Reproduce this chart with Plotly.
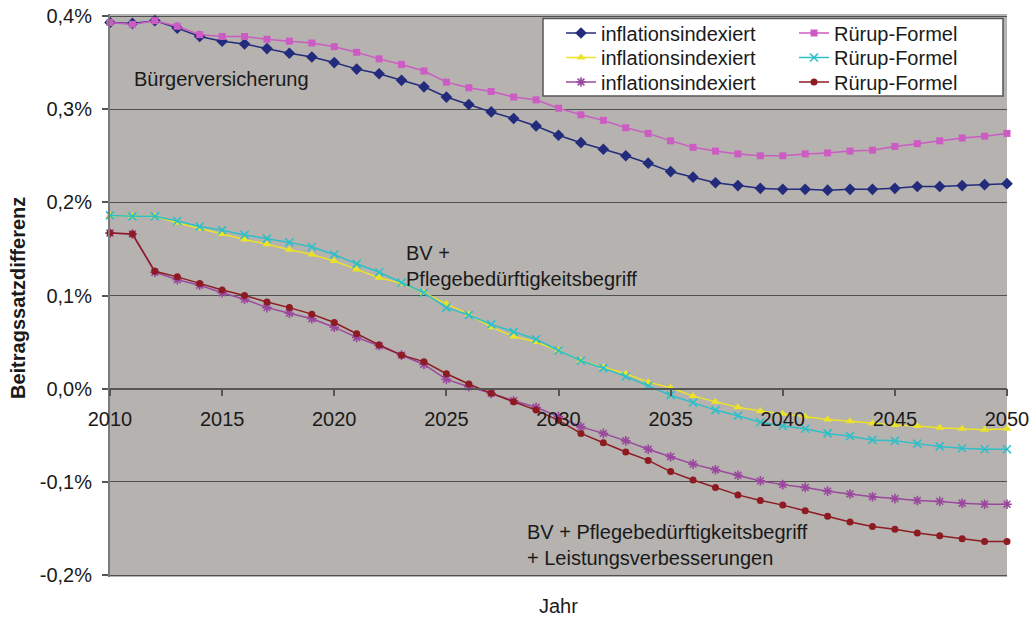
import plotly.graph_objects as go

# ---------------- data ----------------
years = list(range(2010, 2051))

bv_infl = [0.393, 0.392, 0.395, 0.387, 0.378, 0.373, 0.370, 0.365, 0.360, 0.356,
           0.350, 0.343, 0.338, 0.331, 0.324, 0.313, 0.305, 0.297, 0.290, 0.282,
           0.272, 0.264, 0.257, 0.250, 0.242, 0.233, 0.227, 0.221, 0.218, 0.215,
           0.214, 0.214, 0.213, 0.214, 0.214, 0.215, 0.217, 0.217, 0.218, 0.219, 0.220]

bv_ruerup = [0.393, 0.391, 0.395, 0.389, 0.380, 0.378, 0.378, 0.375, 0.373, 0.371,
             0.367, 0.361, 0.354, 0.348, 0.341, 0.329, 0.323, 0.319, 0.313, 0.310,
             0.301, 0.294, 0.288, 0.280, 0.274, 0.266, 0.259, 0.255, 0.252, 0.250,
             0.250, 0.252, 0.253, 0.255, 0.256, 0.260, 0.263, 0.266, 0.269, 0.271, 0.274]

pb_infl = [0.186, 0.185, 0.185, 0.178, 0.172, 0.166, 0.160, 0.155, 0.149, 0.144,
           0.137, 0.128, 0.119, 0.113, 0.103, 0.091, 0.080, 0.066, 0.056, 0.050,
           0.041, 0.030, 0.023, 0.016, 0.007, 0.001, -0.008, -0.014, -0.020, -0.024,
           -0.027, -0.030, -0.033, -0.035, -0.037, -0.039, -0.040, -0.042, -0.043, -0.044, -0.043]

pb_ruerup = [0.186, 0.185, 0.185, 0.180, 0.174, 0.170, 0.165, 0.161, 0.157, 0.152,
             0.144, 0.134, 0.125, 0.114, 0.103, 0.087, 0.079, 0.069, 0.061, 0.053,
             0.041, 0.030, 0.022, 0.013, 0.003, -0.007, -0.015, -0.023, -0.029, -0.036,
             -0.040, -0.043, -0.048, -0.051, -0.055, -0.056, -0.059, -0.062, -0.064, -0.065, -0.065]

lv_infl = [0.167, 0.166, 0.125, 0.117, 0.111, 0.103, 0.096, 0.087, 0.081, 0.075,
           0.066, 0.055, 0.046, 0.036, 0.026, 0.010, 0.002, -0.005, -0.013, -0.020,
           -0.030, -0.041, -0.048, -0.056, -0.065, -0.073, -0.081, -0.087, -0.093, -0.099,
           -0.103, -0.106, -0.110, -0.113, -0.116, -0.118, -0.120, -0.121, -0.123, -0.124, -0.124]

lv_ruerup = [0.167, 0.166, 0.126, 0.120, 0.113, 0.106, 0.100, 0.093, 0.087, 0.080,
             0.071, 0.059, 0.047, 0.036, 0.029, 0.016, 0.005, -0.005, -0.014, -0.023,
             -0.034, -0.048, -0.058, -0.068, -0.077, -0.089, -0.098, -0.106, -0.114, -0.120,
             -0.125, -0.131, -0.137, -0.143, -0.148, -0.151, -0.155, -0.158, -0.161, -0.164, -0.164]

series_names = ["inflationsindexiert", "Rürup-Formel",
                "inflationsindexiert", "Rürup-Formel",
                "inflationsindexiert", "Rürup-Formel"]

x_tickvals = [2010, 2015, 2020, 2025, 2030, 2035, 2040, 2045, 2050]
x_ticktext = ["2010", "2015", "2020", "2025", "2030", "2035", "2040", "2045", "2050"]
y_tickvals = [-0.2, -0.1, 0.0, 0.1, 0.2, 0.3, 0.4]
y_ticktext = ["-0,2%", "-0,1%", "0,0%", "0,1%", "0,2%", "0,3%", "0,4%"]

# ---------------- styling ----------------
FONT = "Liberation Sans, Arial, sans-serif"
W, H = 1031, 618
OFF = 0  # page margin removed by the post script below
Y_LO, Y_HI = -0.2, 0.4
GT, GB = 16, 575          # screen rows of the 0,4% and -0,2% gridlines
PADPX = 2                 # keep edge gridlines just inside the plot area
EPS = PADPX * (Y_HI - Y_LO) / (GB - GT)
PL, PR, PT, PB = 110, 1007, GT - PADPX, GB + PADPX
PW, PH = PR - PL, PB - PT
ML, MT = PL - OFF, PT - OFF
MR, MB = W - (PR - OFF), H - (PB - OFF)


def px_x(px):
    return (px - PL) / PW


def px_y(py):
    return (PB - py) / PH


styles = [
    dict(color="#232c7c", symbol="diamond", size=9),
    dict(color="#cc5cc4", symbol="square", size=7),
    dict(color="#ece228", symbol="triangle-up", size=8),
    dict(color="#2ebfc8", symbol="x-thin-open", size=8),
    dict(color="#9a489e", symbol="asterisk-open", size=8),
    dict(color="#8e1b22", symbol="circle", size=7),
]
all_series = [bv_infl, bv_ruerup, pb_infl, pb_ruerup, lv_infl, lv_ruerup]
legend_ids = ["legend", "legend2", "legend3", "legend4", "legend5", "legend6"]

fig = go.Figure()
for vals, name, st, lg in zip(all_series, series_names, styles, legend_ids):
    is_open = st["symbol"].endswith("-open")
    fig.add_trace(go.Scatter(
        x=years, y=vals, name=name, mode="lines+markers",
        line=dict(color=st["color"], width=1.5),
        marker=dict(symbol=st["symbol"], size=st["size"], color=st["color"],
                    line=dict(color=st["color"], width=1.6 if is_open else 0)),
        legend=lg, cliponaxis=False,
    ))

# legend positions: two columns, three rows (top edge of each row)
col_x = [px_x(561), px_x(794)]
row_top = [px_y(13.5), px_y(38), px_y(62.5)]
legend_layouts = {}
for i, lg in enumerate(legend_ids):
    legend_layouts[lg] = dict(
        x=col_x[i % 2], y=row_top[i // 2], xanchor="left", yanchor="top",
        bgcolor="rgba(0,0,0,0)", borderwidth=0,
        font=dict(family=FONT, size=20, color="#1a1a1a"),
    )

fig.update_layout(
    width=W, height=H,
    margin=dict(l=ML, r=MR, t=MT, b=MB, autoexpand=False),
    paper_bgcolor="white",
    plot_bgcolor="#b5b2af",
    font=dict(family=FONT, size=20, color="#1a1a1a"),
    showlegend=True,
    **legend_layouts,
    xaxis=dict(
        range=[2010, 2050], anchor="free",
        position=(0 - (Y_LO - EPS)) / ((Y_HI + EPS) - (Y_LO - EPS)),
        tickvals=x_tickvals, ticktext=x_ticktext,
        showgrid=False, zeroline=False,
        showline=True, linecolor="#555555", linewidth=1.5,
        ticks="outside", ticklen=7, tickwidth=1.5, tickcolor="#555555",
        tickfont=dict(family=FONT, size=20, color="#1a1a1a"),
        ticklabelstandoff=6, ticklabeloverflow="allow",
    ),
    yaxis=dict(
        range=[Y_LO - EPS, Y_HI + EPS],
        tickvals=y_tickvals, ticktext=y_ticktext,
        showgrid=True, gridcolor="#505050", gridwidth=1.3,
        zeroline=False,
        showline=True, linecolor="#7a7a7a", linewidth=2,
        ticks="outside", ticklen=6, tickwidth=1.5, tickcolor="#555555",
        tickfont=dict(family=FONT, size=20, color="#1a1a1a"),
        ticklabelstandoff=6, ticklabeloverflow="allow",
    ),
    shapes=[dict(
        type="rect", xref="paper", yref="paper",
        x0=px_x(543), x1=px_x(1003), y0=px_y(96), y1=px_y(18.5),
        fillcolor="white", line=dict(color="#555555", width=1.5), layer="above",
    )],
    annotations=[
        dict(text="Bürgerversicherung", x=2011.0, y=0.332, xref="x", yref="y",
             xanchor="left", yanchor="middle", showarrow=False,
             font=dict(family=FONT, size=20, color="#1a1a1a")),
        dict(text="BV +<br>Pflegebedürftigkeitsbegriff", x=2023.1, y=0.160,
             xref="x", yref="y", xanchor="left", yanchor="top", align="left",
             showarrow=False, font=dict(family=FONT, size=20, color="#1a1a1a")),
        dict(text="BV + Pflegebedürftigkeitsbegriff<br>+ Leistungsverbesserungen",
             x=2028.5, y=-0.1396, xref="x", yref="y", xanchor="left", yanchor="top",
             align="left", showarrow=False,
             font=dict(family=FONT, size=20, color="#1a1a1a")),
        dict(text="<b>Beitragssatzdifferenz</b>", x=px_x(18), y=px_y(298),
             xref="paper", yref="paper", xanchor="center", yanchor="middle",
             textangle=-90, showarrow=False,
             font=dict(family=FONT, size=20, color="#1a1a1a")),
        dict(text="Jahr", x=px_x(558), y=px_y(606), xref="paper", yref="paper",
             xanchor="center", yanchor="middle", showarrow=False,
             font=dict(family=FONT, size=20, color="#1a1a1a")),
    ],
)

fig.write_html("out.html", config={"displayModeBar": False},
               post_script="document.body.style.margin='0px';")
